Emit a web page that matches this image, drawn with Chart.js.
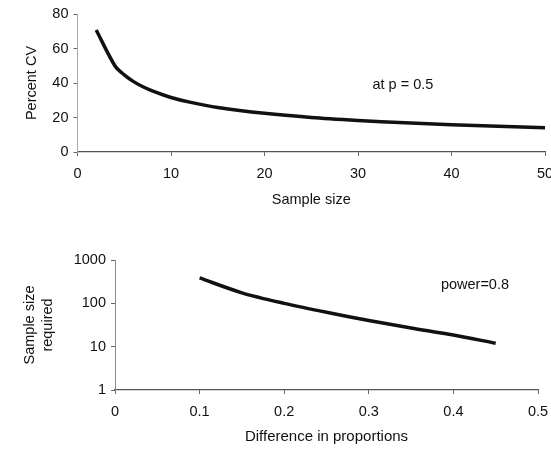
<!DOCTYPE html>
<html>
<head>
<meta charset="utf-8">
<title>Percent CV and sample size</title>
<script src="https://cdn.jsdelivr.net/npm/chart.js@4.4.1/dist/chart.umd.min.js"></script>
<style>
  body { margin: 0; background: #fff; }
  #wrap { position: relative; width: 551px; height: 452px; }
  .box { position: absolute; left: 0; width: 551px; }
  #top { top: 0; height: 215px; }
  #bottom { top: 215px; height: 237px; }
</style>
</head>
<body>
<div id="wrap">
  <div class="box" id="top"><canvas id="cvChart"></canvas></div>
  <div class="box" id="bottom"><canvas id="sizeChart"></canvas></div>
</div>
<script>
// Top chart: percent CV at p = 0.5 against sample size
const sampleSizes = [2, 4, 5, 6, 7, 8, 10, 12, 15, 20, 25, 30, 35, 40, 45, 50];
const percentCV = [70.7, 50, 44.7, 40.8, 37.8, 35.4, 31.6, 28.9, 25.8, 22.4, 20, 18.3, 16.9, 15.8, 14.9, 14.1];
const cvTicks = [0, 20, 40, 60, 80];
const cvNote = { x: 34.8, y: 38.8, text: 'at p = 0.5' };

// Bottom chart: sample size required (power 0.8) against difference in proportions
const differences = [0.1, 0.15, 0.2, 0.25, 0.3, 0.35, 0.4, 0.45];
const sizeRequired = [385, 175, 100, 62, 40, 27, 18.5, 12];
const sizeTicks = [1, 10, 100, 1000];
const sizeNote = { x: 0.4255, y: 265, text: 'power=0.8' };

const FONT = "'Liberation Sans', Arial, sans-serif";
const INK = '#111';

// writes a note at a data position, through the chart's scales
const notePlugin = {
    id: 'note',
    afterDatasetsDraw(chart, args, opts) {
        const ctx = chart.ctx;
        const x = chart.scales.x.getPixelForValue(opts.x);
        const y = chart.scales.y.getPixelForValue(opts.y);
        ctx.save();
        ctx.font = '14.5px ' + FONT;
        ctx.fillStyle = INK;
        ctx.textAlign = 'center';
        ctx.textBaseline = 'middle';
        ctx.fillText(opts.text, x, y);
        ctx.restore();
    }
};

function lineData(xs, ys) {
    return xs.map((x, i) => ({ x: x, y: ys[i] }));
}

// the x axis labels may run past the canvas edge, as in the scan
function fixXAxis(height) {
    return (scale) => {
        scale.height = height;
        scale.paddingLeft = 0;
        scale.paddingRight = 0;
    };
}

new Chart(document.getElementById('cvChart'), {
    type: 'line',
    data: {
        datasets: [{
            data: lineData(sampleSizes, percentCV),
            borderColor: INK,
            borderWidth: 3.5,
            pointRadius: 0,
            tension: 0.3,
            fill: false
        }]
    },
    plugins: [notePlugin],
    options: {
        responsive: true,
        maintainAspectRatio: false,
        animation: false,
        layout: { padding: { top: 14, right: 6, left: 0, bottom: 0 } },
        plugins: {
            legend: { display: false },
            tooltip: { enabled: false },
            note: cvNote
        },
        scales: {
            x: {
                type: 'linear',
                min: 0,
                max: 50,
                afterFit: fixXAxis(63),
                ticks: { stepSize: 10, color: INK, padding: 9, font: { family: FONT, size: 14.5 } },
                grid: { drawOnChartArea: false, tickLength: 4, color: '#666' },
                border: { color: '#555', width: 1.2 },
                title: {
                    display: true,
                    text: 'Sample size',
                    color: INK,
                    font: { family: FONT, size: 14.5 },
                    padding: { top: 0, bottom: 6 }
                }
            },
            y: {
                min: 0,
                max: 80,
                afterFit: (scale) => { scale.width = 77.5; },
                afterBuildTicks: (scale) => { scale.ticks = cvTicks.map(v => ({ value: v })); },
                ticks: { color: INK, padding: 5, font: { family: FONT, size: 14.5 } },
                grid: { drawOnChartArea: false, tickLength: 4, color: '#666' },
                border: { color: '#aaa', width: 1, dash: [1, 4] },
                title: {
                    display: true,
                    text: 'Percent CV',
                    color: INK,
                    font: { family: FONT, size: 14.5 },
                    padding: { top: 23, bottom: 0 }
                }
            }
        }
    }
});

new Chart(document.getElementById('sizeChart'), {
    type: 'line',
    data: {
        datasets: [{
            data: lineData(differences, sizeRequired),
            borderColor: INK,
            borderWidth: 3.5,
            pointRadius: 0,
            tension: 0.3,
            fill: false
        }]
    },
    plugins: [notePlugin],
    options: {
        responsive: true,
        maintainAspectRatio: false,
        animation: false,
        layout: { padding: { top: 45, right: 13, left: 0, bottom: 0 } },
        plugins: {
            legend: { display: false },
            tooltip: { enabled: false },
            note: sizeNote
        },
        scales: {
            x: {
                type: 'linear',
                min: 0,
                max: 0.5,
                afterFit: fixXAxis(62),
                ticks: {
                    stepSize: 0.1,
                    color: INK,
                    padding: 9,
                    font: { family: FONT, size: 14.5 },
                    callback: (v) => String(Math.round(v * 10) / 10)
                },
                grid: { drawOnChartArea: false, tickLength: 4, color: '#666' },
                border: { color: '#555', width: 1.2 },
                title: {
                    display: true,
                    text: 'Difference in proportions',
                    color: INK,
                    font: { family: FONT, size: 15 },
                    padding: { top: 0, bottom: 6 }
                }
            },
            y: {
                type: 'logarithmic',
                min: 1,
                max: 1000,
                afterFit: (scale) => { scale.width = 115; },
                afterBuildTicks: (scale) => { scale.ticks = sizeTicks.map(v => ({ value: v })); },
                ticks: { color: INK, padding: 5, font: { family: FONT, size: 14.5 }, callback: (v) => String(v) },
                grid: { drawOnChartArea: false, tickLength: 4, color: '#666' },
                border: { color: '#888', width: 1, dash: [1, 3] },
                title: {
                    display: true,
                    text: ['Sample size', 'required'],
                    color: INK,
                    font: { family: FONT, size: 14.5, lineHeight: 1.25 },
                    padding: { top: 21, bottom: 0 }
                }
            }
        }
    }
});
</script>
</body>
</html>
